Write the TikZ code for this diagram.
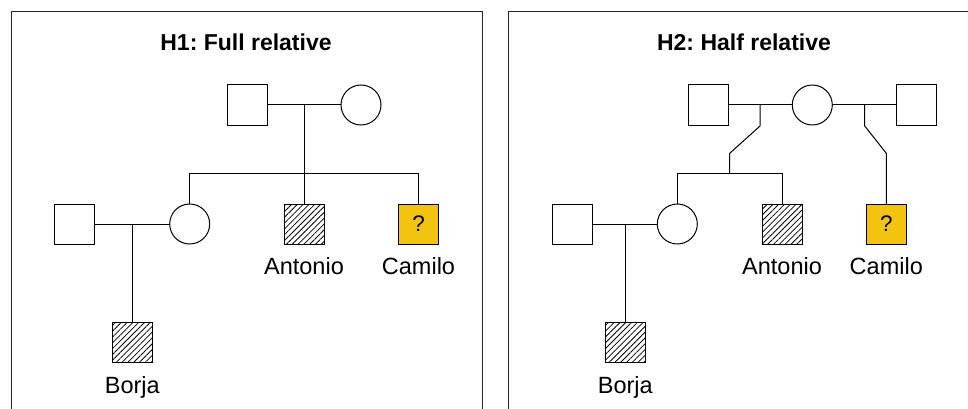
\documentclass[tikz,border=0pt]{standalone}
\usepackage{fontspec}
\setmainfont{Liberation Sans}
\usetikzlibrary{patterns.meta}
\definecolor{qyellow}{HTML}{F2C40F}
\frenchspacing
\begin{document}
\begin{tikzpicture}[x=1pt,y=-1pt,
  male/.style={draw, rectangle, minimum size=40pt, inner sep=0pt, outer sep=0pt, line width=1pt, fill=white},
  female/.style={draw, circle, minimum size=40pt, inner sep=0pt, outer sep=0pt, line width=1pt, fill=white},
  affected/.style={draw, rectangle, minimum size=40pt, inner sep=0pt, outer sep=0pt, line width=1pt,
    pattern={Lines[angle=45,distance=4.1pt,line width=0.8pt]}},
  query/.style={male, fill=qyellow, font=\fontsize{22.5}{26}\selectfont},
  lbl/.style={font=\fontsize{23.5}{28}\selectfont, anchor=base, inner sep=0pt},
  ttl/.style={font=\fontsize{23}{28}\selectfont\bfseries, anchor=base, inner sep=0pt},
  link/.style={line width=1pt},
  panel/.style={draw=black!85, line width=1pt}]
\useasboundingbox (0,0) rectangle (968,409);
\clip (0,0) rectangle (968,409);
\fill[white] (0,0) rectangle (968,409);
% panels
\draw[panel] (11,430) -- (11,12) -- (482,12) -- (482,430);
\draw[panel] (508,430) -- (508,12) -- (990,12);
% ---------------- H1 ----------------
\node[ttl] (t1) at (246,50.7) {H1: Full relative};
\node[male] (a1) at (247,105) {};
\node[female] (b1) at (361,105) {};
\node[male] (c1) at (74.7,224) {};
\node[female] (d1) at (189.7,224) {};
\node[affected] (e1) at (304,224) {};
\node[query] (f1) at (418.7,224) {?};
\node[affected] (g1) at (132.3,342.5) {};
\node[lbl] (le1) at (304,274) {Antonio};
\node[lbl] (lf1) at (418.5,274) {Camilo};
\node[lbl] (lg1) at (132.3,393) {Borja};
\coordinate (j1) at (304,105);
\coordinate (s1) at (304,173.3);
\coordinate (k1) at (132.3,224);
\draw[link] (a1) -- (b1);
\draw[link] (j1) -- (e1.north);
\draw[link] (d1.north) |- (s1) -| (f1.north);
\draw[link] (c1) -- (d1);
\draw[link] (k1) -- (g1.north);
% ---------------- H2 ----------------
\node[ttl] (t2) at (744,50.7) {H2: Half relative};
\node[male] (a2) at (708,105) {};
\node[female] (b2) at (812.3,105) {};
\node[male] (h2) at (916.7,105) {};
\node[male] (c2) at (572.7,224) {};
\node[female] (d2) at (677.3,224) {};
\node[affected] (e2) at (782,224) {};
\node[query] (f2) at (886.3,224) {?};
\node[affected] (g2) at (625.3,342.5) {};
\node[lbl] (le2) at (782,274) {Antonio};
\node[lbl] (lf2) at (886.3,274) {Camilo};
\node[lbl] (lg2) at (625.3,393) {Borja};
\coordinate (j2) at (760,105);
\coordinate (j2a) at (760,126);
\coordinate (j2b) at (729.7,153.3);
\coordinate (s2) at (729.7,173.3);
\coordinate (m2) at (864.7,105);
\coordinate (m2a) at (864.7,126);
\coordinate (m2b) at (886.3,153.3);
\coordinate (k2) at (625.3,224);
\draw[link] (a2) -- (b2);
\draw[link] (b2) -- (h2);
\draw[link] (j2) -- (j2a) -- (j2b) -- (s2);
\draw[link] (d2.north) |- (s2) -| (e2.north);
\draw[link] (m2) -- (m2a) -- (m2b) -- (f2.north);
\draw[link] (c2) -- (d2);
\draw[link] (k2) -- (g2.north);
\end{tikzpicture}
\end{document}
